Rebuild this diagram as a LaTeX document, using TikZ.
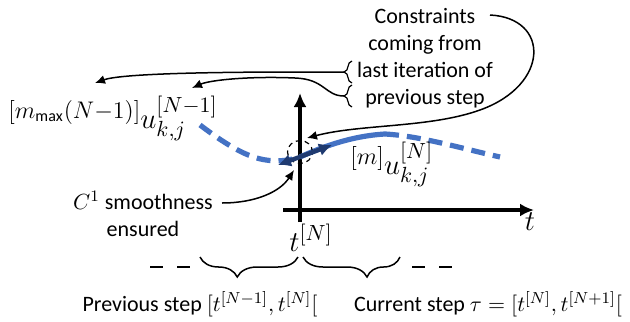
\documentclass[tikz,border=0pt]{standalone}
\usepackage{fontspec}
\setmainfont{Carlito}
\usetikzlibrary{arrows.meta,decorations.pathreplacing,shapes.geometric}
\definecolor{curveblue}{HTML}{4472C4}
\definecolor{darknavy}{HTML}{1F3A70}
\newcommand{\prescr}[1]{\raisebox{5pt}{\fontsize{12}{14}\selectfont$#1$}}
\begin{document}
\begin{tikzpicture}[x=0.5pt,y=-0.5pt,
  conn/.style={line width=0.75pt,-{Latex[length=5pt,width=4.5pt]}},
  axis/.style={line width=1.6pt,-{Latex[length=7pt,width=6.5pt]}},
  bluecurve/.style={draw=curveblue,line width=2.6pt},
  bluedash/.style={bluecurve,dash pattern=on 7pt off 4pt},
  navyarrow/.style={draw=darknavy,fill=darknavy,line width=2.2pt,arrows={Latex[length=6.5pt,width=6.5pt]-Latex[length=6.5pt,width=6.5pt]}},
  txt/.style={font=\fontsize{11}{13.5}\selectfont,align=center,inner sep=0pt},
  mathlbl/.style={font=\fontsize{15}{18}\selectfont,inner sep=0pt},
  vbrace/.style={decorate,decoration={brace,amplitude=4pt},line width=0.6pt},
  hbrace/.style={decorate,decoration={brace,mirror,amplitude=10pt,aspect=#1},line width=0.75pt},
  longdash/.style={line width=0.75pt,dash pattern=on 6.5pt off 7pt}
]
\useasboundingbox (0,0) rectangle (630,321);

% axes
\coordinate (vb) at (300,222);
\coordinate (vt) at (300,93);
\coordinate (hl) at (283,210);
\coordinate (hr) at (534,210);
\draw[axis] (vb) -- (vt);
\draw[axis] (hl) -- (hr);
\node[mathlbl] (tlab) at (530,222) {$t$};
\node[mathlbl,anchor=west] (tN) at (289,238) {$t^{[N]}$};

% blue curve
\coordinate (c0) at (200,125);
\coordinate (c1) at (300,157);
\coordinate (c2) at (385,134);
\coordinate (c3) at (500,157);
\draw[bluedash] (c0) .. controls (240,155) and (265,168) .. (c1);
\draw[bluecurve] (c1) .. controls (320,148) and (350,136) .. (c2);
\draw[bluedash] (c2) .. controls (420,136) and (460,148) .. (c3);

% dashed ellipse and navy double arrow
\node[draw,dash pattern=on 2.5pt off 2pt,line width=0.6pt,ellipse,minimum width=12.5pt,minimum height=11.5pt,inner sep=0pt] (ell) at (300,152) {};
\coordinate (na) at (278,165);
\coordinate (nb) at (332,145);
\path[navyarrow] (na) -- (nb);

% labels u
\node[mathlbl,anchor=base west] (uprev) at (8,128) {\prescr{[m_{\max}(N{-}1)]}$u_{k,j}^{[N-1]}$};
\node[mathlbl,anchor=base west] (ucur) at (350,174) {\prescr{[m]}$u_{k,j}^{[N]}$};

% constraints text
\node[txt] (cons) at (425,58) {Constraints\\coming from\\last iteration of\\previous step};
\coordinate (br1a) at (352,83);
\coordinate (br1b) at (352,61);
\coordinate (br2a) at (352,107);
\coordinate (br2b) at (352,85);
\draw[vbrace] (br1a) -- (br1b);
\draw[vbrace] (br2a) -- (br2b);
\coordinate (t1) at (344,72);
\coordinate (t2) at (344,96);
\coordinate (a1) at (95,83);
\coordinate (a2) at (192,88);
\coordinate (s3) at (490,15);
\coordinate (a3) at (307,138);
\draw[conn] (t1) -- (300,72) .. controls (200,72) and (120,74) .. (a1);
\draw[conn] (t2) .. controls (325,96) and (325,79) .. (295,78) .. controls (250,76) and (210,80) .. (a2);
\draw[conn] (s3) .. controls (550,18) and (550,85) .. (480,110) .. controls (430,128) and (360,124) .. (a3);

% C1 smoothness
\node[txt] (c1txt) at (143,214) {$C^1$ smoothness\\ensured};
\coordinate (cs) at (222,203);
\coordinate (ce) at (294,170);
\draw[conn] (cs) .. controls (255,203) and (280,192) .. (ce);

% bottom braces
\coordinate (lb1) at (200,257);
\coordinate (lb2) at (298,257);
\coordinate (rb1) at (303,257);
\coordinate (rb2) at (400,257);
\draw[hbrace=0.38] (lb1) -- (lb2);
\draw[hbrace=0.66] (rb1) -- (rb2);
\coordinate (dl1) at (150,267);
\coordinate (dl2) at (191,267);
\coordinate (dr1) at (412,267);
\coordinate (dr2) at (453,267);
\draw[longdash] (dl1) -- (dl2);
\draw[longdash] (dr1) -- (dr2);

\node[txt] (prev) at (200,304) {Previous step $[t^{[N-1]},t^{[N]}[$};
\node[txt] (cur) at (488,304) {Current step $\tau=[t^{[N]},t^{[N+1]}[$};
\end{tikzpicture}
\end{document}
